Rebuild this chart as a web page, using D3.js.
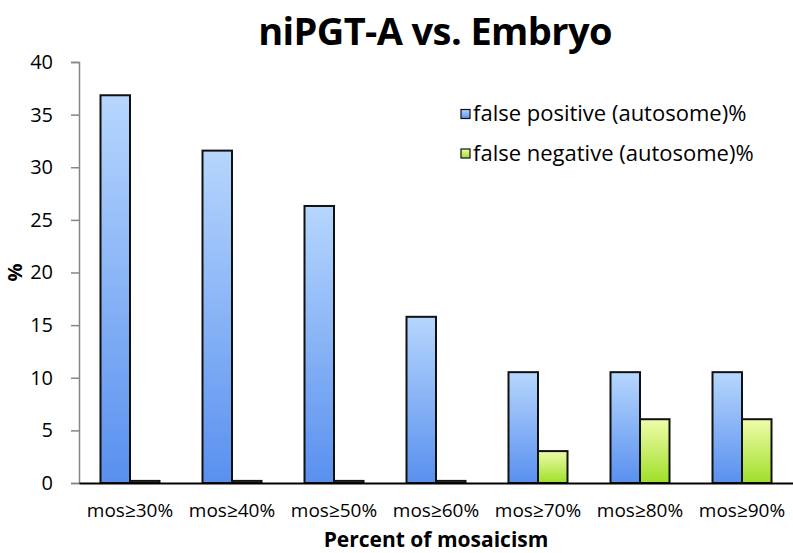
<!DOCTYPE html>
<html>
<head>
<meta charset="utf-8">
<script src="https://cdn.jsdelivr.net/npm/d3@7"></script>
<style>
  html, body { margin: 0; padding: 0; background: #fff; }
  svg { display: block; font-family: "Open Sans", Lato, sans-serif; }
</style>
</head>
<body>
<svg id="chart" width="793" height="553"></svg>
<script>
const categories = ["mos≥30%", "mos≥40%", "mos≥50%", "mos≥60%", "mos≥70%", "mos≥80%", "mos≥90%"];
const seriesNames = ["false positive (autosome)%", "false negative (autosome)%"];
const falsePositive = [36.84, 31.58, 26.32, 15.79, 10.53, 10.53, 10.53];
const falseNegative = [0.2, 0.2, 0.2, 0.2, 3.03, 6.06, 6.06];
const yTicks = [0, 5, 10, 15, 20, 25, 30, 35, 40];
const titleText = "niPGT-A vs. Embryo";
const xTitle = "Percent of mosaicism";
const yTitle = "%";

const svg = d3.select("#chart");
const m = { left: 79, right: 793, top: 62, bottom: 483 };

const x = d3.scaleBand().domain(categories).range([m.left, m.right]).padding(0);
const y = d3.scaleLinear().domain([0, 40]).range([m.bottom, m.top]);

const defs = svg.append("defs");
const grads = [
  { id: "gBlue", top: "#b6d6fd", bottom: "#5990ef" },
  { id: "gGreen", top: "#effcaa", bottom: "#9fdf2a" }
];
grads.forEach(g => {
  const lg = defs.append("linearGradient").attr("id", g.id)
    .attr("x1", 0).attr("y1", 0).attr("x2", 0).attr("y2", 1);
  lg.append("stop").attr("offset", "0%").attr("stop-color", g.top);
  lg.append("stop").attr("offset", "100%").attr("stop-color", g.bottom);
});

// Title
svg.append("text")
  .attr("x", 435).attr("y", 45)
  .attr("text-anchor", "middle")
  .attr("font-size", 38).attr("font-weight", "bold")
  .attr("letter-spacing", -0.6)
  .text(titleText);

// Y axis
const yAxis = svg.append("g").attr("transform", `translate(${m.left},0)`)
  .call(d3.axisLeft(y).tickValues(yTicks).tickSize(8).tickPadding(18));
yAxis.select(".domain").attr("stroke", "#868686").attr("stroke-width", 1.5);
yAxis.selectAll(".tick line").attr("stroke", "#868686").attr("stroke-width", 1.5);
yAxis.selectAll(".tick text").attr("font-size", 20).attr("fill", "#000")
  .attr("font-family", "'Open Sans', sans-serif");

// Y title
svg.append("text")
  .attr("transform", `translate(22,${(m.top + m.bottom) / 2}) rotate(-90)`)
  .attr("text-anchor", "middle")
  .attr("font-size", 20).attr("font-weight", "bold")
  .text(yTitle);

// Bars
const barW = 29.5;
const groups = categories.map((c, i) => ({ c, fp: falsePositive[i], fn: falseNegative[i] }));
const gBars = svg.append("g");
groups.forEach(d => {
  const cx = x(d.c) + x.bandwidth() / 2;
  gBars.append("rect")
    .attr("x", cx - barW).attr("y", y(d.fp))
    .attr("width", barW).attr("height", y(0) - y(d.fp))
    .attr("fill", "url(#gBlue)").attr("stroke", "#111").attr("stroke-width", 2);
  gBars.append("rect")
    .attr("x", cx).attr("y", y(d.fn))
    .attr("width", barW).attr("height", y(0) - y(d.fn))
    .attr("fill", "url(#gGreen)").attr("stroke", "#111").attr("stroke-width", 2);
});

// X axis
const xAxis = svg.append("g").attr("transform", `translate(0,${m.bottom})`)
  .call(d3.axisBottom(x).tickSize(0).tickPadding(21));
xAxis.select(".domain").attr("stroke", "#000").attr("stroke-width", 2);
xAxis.selectAll(".tick text").attr("font-size", 19).attr("fill", "#000")
  .attr("font-family", "'Open Sans', sans-serif");

// X title
svg.append("text")
  .attr("x", 436).attr("y", 547)
  .attr("text-anchor", "middle")
  .attr("font-size", 21).attr("font-weight", "bold")
  .text(xTitle);

// Legend
const legend = svg.append("g");
seriesNames.forEach((name, i) => {
  const ly = 114 + i * 39.5;
  legend.append("rect")
    .attr("x", 461).attr("y", ly - 4.5).attr("width", 9).attr("height", 9)
    .attr("fill", i === 0 ? "url(#gBlue)" : "url(#gGreen)")
    .attr("stroke", "#111").attr("stroke-width", 1.2);
  legend.append("text")
    .attr("x", 473).attr("y", ly + 7)
    .attr("font-size", 22).text(name);
});
</script>
</body>
</html>
